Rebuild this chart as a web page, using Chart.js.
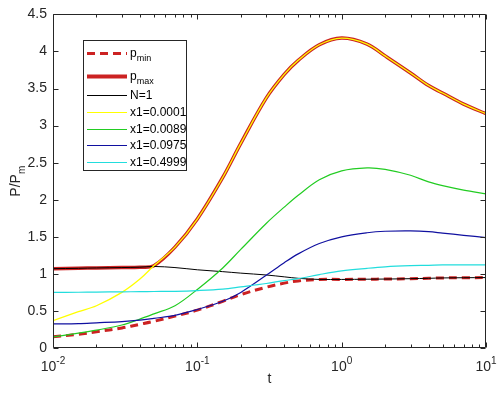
<!DOCTYPE html>
<html>
<head>
<meta charset="utf-8">
<script src="https://cdn.jsdelivr.net/npm/chart.js@4/dist/chart.umd.min.js"></script>
<style>
	html, body { margin: 0; padding: 0; background: #fff; }
	canvas { display: block; }
</style>
</head>
<body>
<canvas id="ratioChart" width="503" height="396"></canvas>
<script>
// sample times (log axis) and the curves
const tValues = [0.01, 0.015, 0.02, 0.03, 0.04, 0.05, 0.07, 0.1, 0.15, 0.2, 0.3, 0.4, 0.5, 0.7, 1, 1.5, 2, 3, 4, 5, 7, 10];
const pMin = [0.15, 0.185, 0.22, 0.27, 0.32, 0.36, 0.43, 0.51, 0.63, 0.72, 0.82, 0.875, 0.905, 0.925, 0.925, 0.928, 0.93, 0.935, 0.94, 0.945, 0.948, 0.95];
const pMax = [1.07, 1.075, 1.08, 1.085, 1.09, 1.11, 1.36, 1.74, 2.3, 2.76, 3.37, 3.69, 3.88, 4.09, 4.18, 4.1, 3.94, 3.71, 3.54, 3.44, 3.29, 3.16];
const nOne = [1.07, 1.075, 1.08, 1.085, 1.09, 1.1, 1.085, 1.055, 1.03, 1.01, 0.985, 0.96, 0.94, 0.925, 0.925, 0.928, 0.93, 0.935, 0.94, 0.945, 0.948, 0.95];
const x1a = [0.37, 0.49, 0.57, 0.75, 0.93, 1.11, 1.36, 1.74, 2.3, 2.76, 3.37, 3.69, 3.88, 4.09, 4.18, 4.1, 3.94, 3.71, 3.54, 3.44, 3.29, 3.16];
const x1b = [0.15, 0.2, 0.24, 0.31, 0.39, 0.46, 0.57, 0.79, 1.08, 1.33, 1.68, 1.9, 2.06, 2.27, 2.39, 2.43, 2.41, 2.33, 2.24, 2.19, 2.13, 2.08];
const x1c = [0.325, 0.33, 0.34, 0.355, 0.375, 0.4, 0.44, 0.52, 0.63, 0.75, 0.98, 1.15, 1.27, 1.41, 1.5, 1.555, 1.575, 1.58, 1.57, 1.55, 1.52, 1.49];
const x1d = [0.75, 0.752, 0.755, 0.758, 0.76, 0.762, 0.765, 0.775, 0.795, 0.825, 0.87, 0.91, 0.935, 0.99, 1.04, 1.075, 1.095, 1.11, 1.115, 1.12, 1.12, 1.12];

const seriesNames = ["p_min", "p_max", "N=1", "x1=0.0001", "x1=0.0089", "x1=0.0975", "x1=0.4999"];
const seriesValues = [pMin, pMax, nOne, x1a, x1b, x1c, x1d];
const seriesColors = ["#cc2222", "#cc2222", "#000000", "#ffff00", "#22cc22", "#1010a0", "#22dddd"];
const seriesWidths = [3, 3.5, 1, 1.3, 1.2, 1.2, 1.2];
const xDecades = [0.01, 0.1, 1, 10];
const yRange = [0, 4.5];

const axisColor = "#262626";
const fontFamily = "'Liberation Sans', Arial, sans-serif";

function toPoints(values) {
	return tValues.map((t, i) => ({ x: t, y: values[i] }));
}

const datasets = seriesNames.map((name, i) => ({
	label: name,
	data: toPoints(seriesValues[i]),
	borderColor: seriesColors[i],
	backgroundColor: seriesColors[i],
	borderWidth: seriesWidths[i],
	borderDash: i === 0 ? [8, 5] : [],
	pointRadius: 0,
	fill: false,
	tension: 0.35,
	// later series sit on top, like the original plot order
	order: seriesNames.length - i,
}));

// text with an optional smaller sub/superscript part
function drawRich(ctx, main, small, x, y, size, shift, align) {
	ctx.font = size + "px " + fontFamily;
	const w1 = ctx.measureText(main).width;
	ctx.font = Math.round(size * 0.72) + "px " + fontFamily;
	const w2 = small ? ctx.measureText(small).width : 0;
	const start = align === "center" ? x - (w1 + w2) / 2 : x;
	ctx.textAlign = "left";
	ctx.textBaseline = "middle";
	ctx.font = size + "px " + fontFamily;
	ctx.fillText(main, start, y);
	if (small) {
		ctx.font = Math.round(size * 0.72) + "px " + fontFamily;
		ctx.fillText(small, start + w1, y + shift);
	}
}

const axesFrame = {
	id: "axesFrame",
	afterDraw(chart) {
		const { ctx, chartArea: a, scales } = chart;
		const xs = scales.x;
		const ys = scales.y;
		const left = Math.round(a.left) + 0.5;
		const right = Math.round(a.right) - 0.5;
		const top = Math.round(a.top) + 0.5;
		const bottom = Math.round(a.bottom) - 0.5;
		ctx.save();
		ctx.strokeStyle = axisColor;
		ctx.lineWidth = 1;
		ctx.beginPath();
		ctx.rect(left, top, right - left, bottom - top);
		// log ticks, inward on bottom and top
		for (let d = 0; d < xDecades.length; d++) {
			const steps = d === xDecades.length - 1 ? 1 : 9;
			for (let m = 1; m <= steps; m++) {
				const px = Math.round(xs.getPixelForValue(m * xDecades[d])) + 0.5;
				const len = m === 1 ? 5 : 3;
				ctx.moveTo(px, bottom);
				ctx.lineTo(px, bottom - len);
				ctx.moveTo(px, top);
				ctx.lineTo(px, top + len);
			}
		}
		ys.ticks.forEach((tick) => {
			const py = Math.round(ys.getPixelForValue(tick.value)) + 0.5;
			ctx.moveTo(left, py);
			ctx.lineTo(left + 5, py);
			ctx.moveTo(right, py);
			ctx.lineTo(right - 5, py);
		});
		ctx.stroke();

		ctx.fillStyle = axisColor;
		xDecades.forEach((v) => {
			const exp = String(Math.round(Math.log10(v)));
			drawRich(ctx, "10", exp, xs.getPixelForValue(v), a.bottom + 19, 14, -6, "center");
		});
		drawRich(ctx, "t", "", (a.left + a.right) / 2, a.bottom + 31, 14, 0, "center");

		ctx.translate(16, (a.top + a.bottom) / 2);
		ctx.rotate(-Math.PI / 2);
		drawRich(ctx, "P/P", "m", 0, 0, 14, 6, "center");
		ctx.restore();
	},
};

const boxLegend = {
	id: "boxLegend",
	afterDraw(chart) {
		const ctx = chart.ctx;
		const box = { left: 83.5, top: 40.5, width: 103, height: 130 };
		ctx.save();
		ctx.fillStyle = "#fff";
		ctx.strokeStyle = axisColor;
		ctx.lineWidth = 1;
		ctx.fillRect(box.left, box.top, box.width, box.height);
		ctx.strokeRect(box.left, box.top, box.width, box.height);
		let y = box.top + 1.5;
		chart.data.datasets.forEach((ds) => {
			const parts = ds.label.split("_");
			const rowH = parts.length > 1 ? 22.5 : 16.6;
			const cy = Math.round(y + rowH / 2) + 0.5;
			ctx.beginPath();
			ctx.strokeStyle = ds.borderColor;
			ctx.lineWidth = Math.max(1, Math.round(ds.borderWidth));
			ctx.setLineDash(ds.borderDash);
			ctx.moveTo(87, cy);
			ctx.lineTo(127, cy);
			ctx.stroke();
			ctx.setLineDash([]);
			ctx.fillStyle = "#000";
			drawRich(ctx, parts[0], parts[1] || "", 130, cy, 12, 5, "left");
			y += rowH;
		});
		ctx.restore();
	},
};

new Chart(document.getElementById("ratioChart"), {
	type: "line",
	data: { datasets },
	options: {
		responsive: false,
		animation: false,
		devicePixelRatio: 1,
		layout: { padding: { left: 0, right: 17, top: 8, bottom: 0 } },
		plugins: {
			legend: { display: false },
			tooltip: { enabled: false },
		},
		scales: {
			x: {
				type: "logarithmic",
				min: xDecades[0],
				max: xDecades[xDecades.length - 1],
				ticks: { display: false },
				grid: { display: false, drawTicks: false },
				border: { display: false },
				afterFit: (scale) => {
					scale.height = 48;
				},
			},
			y: {
				min: yRange[0],
				max: yRange[1],
				ticks: {
					stepSize: 0.5,
					padding: 6,
					color: axisColor,
					font: { family: fontFamily, size: 14 },
					callback: (v) => String(v),
				},
				grid: { display: false, drawTicks: false },
				border: { display: false },
				afterFit: (scale) => {
					scale.width = 53;
				},
			},
		},
	},
	plugins: [axesFrame, boxLegend],
});
</script>
</body>
</html>
